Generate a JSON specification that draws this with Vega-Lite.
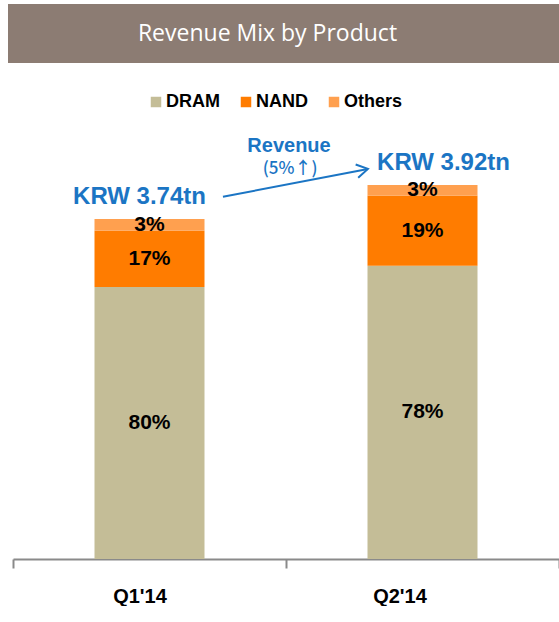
{
  "$schema": "https://vega.github.io/schema/vega-lite/v6.json",
  "padding": {"left": 8, "top": 4, "right": 0, "bottom": 0},
  "background": "white",
  "spacing": 59,
  "config": {"view": {"stroke": null}, "font": "Liberation Sans"},
  "datasets": {
    "mix": [
      {"quarter": "Q1'14", "product": "DRAM", "value": 80, "share": "80%"},
      {"quarter": "Q1'14", "product": "NAND", "value": 16.5, "share": "17%"},
      {"quarter": "Q1'14", "product": "Others", "value": 3.5, "share": "3%"},
      {"quarter": "Q2'14", "product": "DRAM", "value": 86.2, "share": "78%"},
      {"quarter": "Q2'14", "product": "NAND", "value": 20.6, "share": "19%"},
      {"quarter": "Q2'14", "product": "Others", "value": 3.2, "share": "3%"}
    ],
    "totals": [
      {"quarter": "Q1'14", "total": 100, "revenue": "KRW 3.74tn"},
      {"quarter": "Q2'14", "total": 110, "revenue": "KRW 3.92tn"}
    ],
    "arrow": [
      {"x0": 0.769, "y0": 106.5, "x1": 1.3, "y1": 114.7}
    ],
    "notes": [
      {"pos": 1.011, "level": 121.5, "text": "Revenue", "kind": "main"},
      {"pos": 1.015, "level": 114.6, "text": "(5%↑)", "kind": "sub"}
    ],
    "banner": [{"title": "Revenue Mix by Product"}]
  },
  "vconcat": [
    {
      "width": 551,
      "height": 59,
      "view": {"fill": "#8C7C73", "stroke": null},
      "data": {"name": "banner"},
      "mark": {"type": "text", "color": "white", "font": "Open Sans", "fontSize": 23, "dx": -16, "baseline": "middle", "align": "center"},
      "encoding": {"text": {"field": "title"}}
    },
    {
      "width": 551,
      "height": 437,
      "resolve": {"scale": {"x": "independent"}},
      "layer": [
        {
          "layer": [
            {
              "data": {"name": "mix"},
              "mark": {"type": "bar", "width": 110},
              "encoding": {
                "x": {
                  "field": "quarter", "type": "nominal",
                  "scale": {"type": "band", "range": [5, 551], "paddingInner": 0, "paddingOuter": 0},
                  "axis": {
                    "title": null, "labelAngle": 0,
                    "domainColor": "#8a8a8a", "domainWidth": 2,
                    "tickColor": "#8a8a8a", "tickWidth": 2, "tickSize": 9, "tickBand": "extent",
                    "labelFont": "Liberation Sans", "labelFontSize": 20, "labelFontWeight": "bold",
                    "labelColor": "black", "labelPadding": 18,
                    "labelOffset": {"expr": "datum.value === \"Q1'14\" ? -10 : -23"}
                  }
                },
                "y": {
                  "field": "value", "type": "quantitative", "stack": "zero",
                  "scale": {"domain": [0, 128.5], "nice": false},
                  "axis": null
                },
                "order": {"field": "product", "sort": "ascending"},
                "color": {
                  "field": "product", "type": "nominal",
                  "scale": {"domain": ["DRAM", "NAND", "Others"], "range": ["#C4BD97", "#FF7C00", "#FFA04F"]},
                  "legend": {
                    "title": null, "orient": "none", "legendX": 139, "legendY": 89,
                    "direction": "horizontal", "symbolType": "square", "symbolSize": 110,
                    "symbolStrokeWidth": 0, "labelFont": "Liberation Sans", "labelFontSize": 18,
                    "labelFontWeight": "bold", "labelColor": "black", "columnPadding": 17, "labelOffset": 1
                  }
                }
              }
            },
            {
              "data": {"name": "mix"},
              "mark": {"type": "text", "font": "Liberation Sans", "fontSize": 21, "fontWeight": "bold", "color": "black", "baseline": "middle"},
              "encoding": {
                "x": {"field": "quarter", "type": "nominal"},
                "y": {"field": "value", "type": "quantitative", "stack": "zero", "bandPosition": 0.5},
                "order": {"field": "product", "sort": "ascending"},
                "detail": {"field": "product"},
                "text": {"field": "share"}
              }
            },
            {
              "data": {"name": "totals"},
              "mark": {"type": "text", "font": "Liberation Sans", "fontSize": 24, "fontWeight": "bold", "color": "#1B75C4", "baseline": "alphabetic", "dy": -15, "dx": {"expr": "datum.quarter === \"Q1'14\" ? -10 : 21"}},
              "encoding": {
                "x": {"field": "quarter", "type": "nominal"},
                "y": {"field": "total", "type": "quantitative"},
                "text": {"field": "revenue"}
              }
            }
          ]
        },
        {
          "layer": [
            {
              "data": {"name": "arrow"},
              "mark": {"type": "rule", "color": "#1B75C4", "strokeWidth": 2},
              "encoding": {
                "x": {"field": "x0", "type": "quantitative", "scale": {"domain": [0, 2], "range": [5, 551], "nice": false}, "axis": null},
                "x2": {"field": "x1"},
                "y": {"field": "y0", "type": "quantitative"},
                "y2": {"field": "y1"}
              }
            },
            {
              "data": {"name": "arrow"},
              "mark": {"type": "point", "shape": "M-1,-0.6L0,0L-1,0.6", "filled": false, "stroke": "#1B75C4", "strokeWidth": 2, "size": 500, "angle": -10.9, "opacity": 1},
              "encoding": {
                "x": {"field": "x1", "type": "quantitative"},
                "y": {"field": "y1", "type": "quantitative"}
              }
            },
            {
              "data": {"name": "notes"},
              "transform": [{"filter": "datum.kind === 'main'"}],
              "mark": {"type": "text", "font": "Liberation Sans", "fontSize": 20, "fontWeight": "bold", "color": "#1B75C4", "baseline": "middle"},
              "encoding": {
                "x": {"field": "pos", "type": "quantitative"},
                "y": {"field": "level", "type": "quantitative"},
                "text": {"field": "text"}
              }
            },
            {
              "data": {"name": "notes"},
              "transform": [{"filter": "datum.kind === 'sub'"}],
              "mark": {"type": "text", "font": "Noto Sans CJK KR", "fontSize": 17, "fontWeight": 500, "color": "#1B75C4", "baseline": "middle"},
              "encoding": {
                "x": {"field": "pos", "type": "quantitative"},
                "y": {"field": "level", "type": "quantitative"},
                "text": {"field": "text"}
              }
            }
          ]
        }
      ]
    }
  ]
}
